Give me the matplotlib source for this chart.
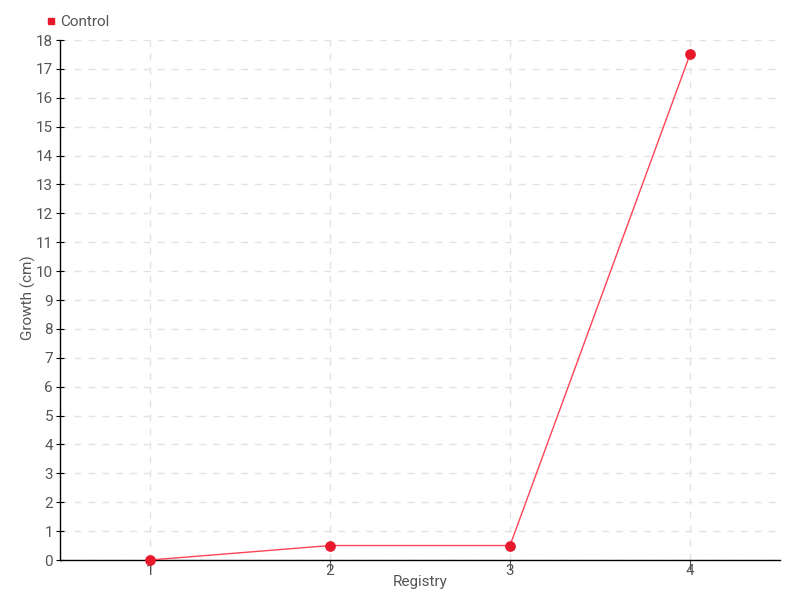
import matplotlib
matplotlib.use('Agg')
import matplotlib.pyplot as plt
from matplotlib.lines import Line2D

# Data
registry = [1, 2, 3, 4]
control = [0, 0.5, 0.5, 17.5]
yticks = list(range(0, 19))

plt.rcParams['font.family'] = ['Roboto', 'DejaVu Sans']

txt = '#555555'
red = '#e8192c'

fig = plt.figure(figsize=(8, 6), dpi=100)
ax = fig.add_axes([0.075, 1 - 560 / 600, 0.9, 520 / 600])

ax.plot(registry, control, color='#ff4455', linewidth=1, zorder=3)
ax.scatter(registry, control, s=45, color=red, zorder=4, clip_on=False)

ax.set_xlim(0.5, 4.5)
ax.set_ylim(0, 18)
ax.set_xticks(registry)
ax.set_yticks(yticks)

ax.grid(True, color='#e3e3e3', linestyle=(0, (5, 5)), linewidth=1)
ax.set_axisbelow(True)

for s in ['top', 'right']:
    ax.spines[s].set_visible(False)
for s in ['left', 'bottom']:
    ax.spines[s].set_color('black')
    ax.spines[s].set_linewidth(1)

ax.tick_params(axis='y', direction='inout', length=6, colors='black',
               labelcolor=txt, labelsize=11, pad=2)
ax.tick_params(axis='x', direction='out', length=7, colors='#555555',
               labelcolor=txt, labelsize=11, pad=-4)

ax.set_xlabel('Registry', color=txt, fontsize=11)
ax.set_ylabel('Growth (cm)', color=txt, fontsize=11)
ax.xaxis.set_label_coords(0.5, -0.028)
ax.yaxis.set_label_coords(-0.034, 0.504)

# legend in top-left corner
handle = Line2D([], [], marker='s', color=red, linestyle='', markersize=5)
leg = ax.legend([handle], ['Control'], loc='center left',
                bbox_to_anchor=(46 / 800, 1 - 22 / 600),
                bbox_transform=fig.transFigure, frameon=False,
                handlelength=0.6, handletextpad=0.3, borderpad=0,
                borderaxespad=0, fontsize=11)
for t in leg.get_texts():
    t.set_color(txt)

fig.savefig('out.png', dpi=100)
